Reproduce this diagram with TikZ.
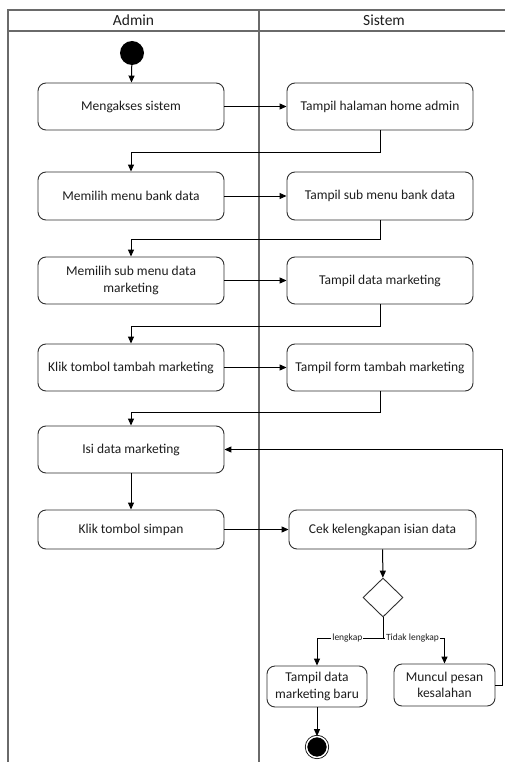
\documentclass[tikz,border=0pt]{standalone}
\usepackage{fontspec}
\setmainfont{Carlito}
\usetikzlibrary{arrows.meta,shapes.geometric}

\definecolor{lanegray}{HTML}{6A6A6A}
\definecolor{boxline}{HTML}{303030}
\definecolor{txt}{HTML}{1E1E1E}

\tikzset{
  lane/.style={draw=lanegray, line width=1.5pt},
  act/.style={draw=boxline, line width=0.9pt, rounded corners=8pt, align=center,
    text=txt, font=\fontsize{13.5}{16.5}\selectfont, inner sep=0pt,
    minimum width=186pt, minimum height=47pt},
  smallact/.style={act, minimum width=100pt, minimum height=41pt},
  flow/.style={draw=black, line width=1pt, -{Triangle[length=7pt,width=6pt]}},
  plainflow/.style={draw=black, line width=1pt},
  lab/.style={fill=white, inner sep=1pt, text=txt, font=\fontsize{9.5}{10}\selectfont},
  head/.style={text=txt, font=\fontsize{15.5}{18}\selectfont},
  startdot/.style={circle, fill=black, minimum size=24pt, inner sep=0pt},
  enddot/.style={circle, draw=black, line width=0.8pt, fill=black, double=white,
    double distance=1.5pt, minimum size=21pt, inner sep=0pt},
  choice/.style={diamond, draw=boxline, line width=0.9pt, minimum width=40pt,
    minimum height=39pt, inner sep=0pt}
}

\begin{document}
\begin{tikzpicture}[x=1pt,y=-1pt]
  \useasboundingbox (0,0) rectangle (504,762);
  \fill[white] (0,0) rectangle (504,762);

  % swimlane frame
  \draw[lane] (8,762) -- (8,10) -- (505,10);
  \draw[lane] (8,31) -- (505,31);
  \draw[lane] (259,10) -- (259,762);
  \node[head] (hadmin) at (133.5,20.5) {Admin};
  \node[head] (hsistem) at (384,20.5) {Sistem};

  % activities
  \node[startdot] (init) at (132,53) {};
  \node[act] (a1) at (131,106.5) {Mengakses sistem};
  \node[act] (s1) at (380,106.5) {Tampil halaman home admin};
  \node[act, minimum height=48pt] (a2) at (131,196) {Memilih menu bank data};
  \node[act, minimum height=48pt] (s2) at (380,196) {Tampil sub menu bank data};
  \node[act] (a3) at (131,280.5) {Memilih sub menu data\\marketing};
  \node[act] (s3) at (380,280.5) {Tampil data marketing};
  \node[act] (a4) at (131,367.5) {Klik tombol tambah marketing};
  \node[act] (s4) at (380,367.5) {Tampil form tambah marketing};
  \node[act] (a5) at (131,449.5) {Isi data marketing};
  \node[act, minimum height=39pt] (a6) at (131,529.5) {Klik tombol simpan};
  \node[act, minimum height=39pt, minimum width=187pt] (s6) at (382.5,529.5) {Cek kelengkapan isian data};
  \node[choice] (dec) at (383,597.5) {};
  \node[smallact] (s7) at (317,686.5) {Tampil data\\marketing baru};
  \node[smallact, minimum width=101pt, minimum height=42pt] (s8) at (444.5,685) {Muncul pesan\\kesalahan};
  \node[enddot] (fin) at (317,747) {};

  % control flow
  \draw[flow] (init) -- (a1);
  \draw[flow] (a1) -- (s1);
  \draw[flow] (s1.south) -- ++(0,22) -| (a2.north);
  \draw[flow] (a2) -- (s2);
  \draw[flow] (s2.south) -- ++(0,19) -| (a3.north);
  \draw[flow] (a3) -- (s3);
  \draw[flow] (s3.south) -- ++(0,22) -| (a4.north);
  \draw[flow] (a4) -- (s4);
  \draw[flow] (s4.south) -- ++(0,21) -| (a5.north);
  \draw[flow] (a5) -- (a6);
  \draw[flow] (a6) -- (s6);
  \draw[flow] (s6) -- (dec);
  % branch after the decision
  \draw[plainflow] (dec.south) -- ++(0,21) coordinate (split);
  \draw[flow] (split) -| node[lab, pos=0.27] {lengkap} (s7.north);
  \draw[flow, line width=1.3pt] (split) -| node[lab, pos=0.24] {Tidak lengkap} (s8.north);
  \draw[flow] (s7) -- (fin);
  \draw[flow] (s8.east) -- ++(7,0) |- (a5.east);
\end{tikzpicture}
\end{document}
